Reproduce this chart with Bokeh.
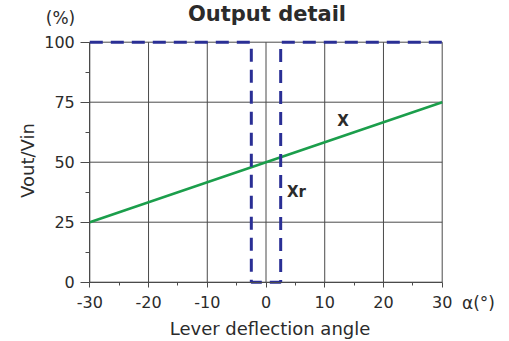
import math
from bokeh.plotting import figure
from bokeh.models import Range1d, FixedTicker, Label, LinearAxis
from bokeh.embed import file_html
from bokeh.resources import INLINE

# ---- data ----
x_ticks = [-30, -20, -10, 0, 10, 20, 30]
x_minor = [-25, -15, -5, 5, 15, 25]
x_tick_labels = ["-30", "-20", "-10", "0", "10", "20", "30"]
y_ticks = [0, 25, 50, 75, 100]
y_minor = [12.5, 37.5, 62.5, 87.5]
y_tick_labels = ["0", "25", "50", "75", "100"]
x_angle = [-30, 30]          # output X (linear)
x_vals = [25, 75]
xr_angle = [-30, -2.5, -2.5, 2.5, 2.5, 30]   # output Xr (switch)
xr_vals = [100, 100, 0, 0, 100, 100]

FONT = "DejaVu Sans"
GRID = "#4a4a4a"
TXT = "#2b2b2b"

W, H = 509, 341
# plot-area placement (pixels)
PL, PR, PT, PB = 89.3, 441.7, 41.7, 281.7
sx = (PR - PL) / (x_ticks[-1] - x_ticks[0])
sy = (PB - PT) / (y_ticks[-1] - y_ticks[0])
xr = Range1d(x_ticks[0] - PL / sx, x_ticks[-1] + (W - PR) / sx)
yr = Range1d(y_ticks[0] - (H - PB) / sy, y_ticks[-1] + PT / sy)

p = figure(width=W, height=H, x_range=xr, y_range=yr, x_axis_type=None, y_axis_type=None,
           output_backend="svg", toolbar_location=None, min_border=0)
p.outline_line_color = None
p.xgrid.visible = False
p.ygrid.visible = False

# grid lines (from tick lists)
p.segment(x0=x_ticks, y0=[y_ticks[0]] * len(x_ticks), x1=x_ticks, y1=[y_ticks[-1]] * len(x_ticks),
          line_color=GRID, line_width=1)
p.segment(x0=[x_ticks[0]] * len(y_ticks), y0=y_ticks, x1=[x_ticks[-1]] * len(y_ticks), y1=y_ticks,
          line_color=GRID, line_width=1)

xa = LinearAxis(fixed_location=y_ticks[0], bounds=(x_ticks[0], x_ticks[-1]),
                ticker=FixedTicker(ticks=x_ticks, minor_ticks=x_minor),
                major_label_overrides=dict(zip(x_ticks, x_tick_labels)))
ya = LinearAxis(fixed_location=x_ticks[0], bounds=(y_ticks[0], y_ticks[-1]),
                ticker=FixedTicker(ticks=y_ticks, minor_ticks=y_minor),
                major_label_overrides=dict(zip(y_ticks, y_tick_labels)))
for ax in (xa, ya):
    ax.axis_line_color = GRID
    ax.major_tick_line_color = GRID
    ax.minor_tick_line_color = GRID
    ax.major_tick_in = 0
    ax.minor_tick_in = 0
    ax.major_label_text_font = FONT
    ax.major_label_text_font_size = "16px"
    ax.major_label_text_color = TXT
xa.major_tick_out = 5
xa.minor_tick_out = 3
xa.major_label_standoff = 9
ya.major_tick_out = 9
ya.minor_tick_out = 4
ya.major_label_standoff = 6
p.add_layout(xa, "below")
p.add_layout(ya, "left")

p.line(x_angle, x_vals, line_color="#1b9e4b", line_width=2.5)
p.line(xr_angle, xr_vals, line_color="#2a2f95", line_width=3, line_dash="13 8")

def lab(px, py, t, size, bold=False, angle=0):
    # px, py: wanted baseline position in pixels; correct for baseline offset
    off = 0.38 * size
    if angle:
        px -= off
    else:
        py -= off
    x = x_ticks[0] + (px - PL) / sx
    y = y_ticks[0] + (PB - py) / sy
    p.add_layout(Label(x=x, y=y, text=t, text_font=FONT, text_font_size=f"{size}px",
                       text_font_style="bold" if bold else "normal", text_color=TXT,
                       text_align="center", text_baseline="alphabetic", angle=angle))

lab(342.5, 126, "X", 15, bold=True)
lab(296, 197, "Xr", 15, bold=True)
lab(266.5, 21, "Output detail", 21, bold=True)
lab(60, 24, "(%)", 17)
lab(478, 309, "α(°)", 17)
lab(269.5, 335, "Lever deflection angle", 18)
lab(34, 160, "Vout/Vin", 18, angle=math.pi / 2)

open("out.html", "w").write(file_html(p, INLINE))
